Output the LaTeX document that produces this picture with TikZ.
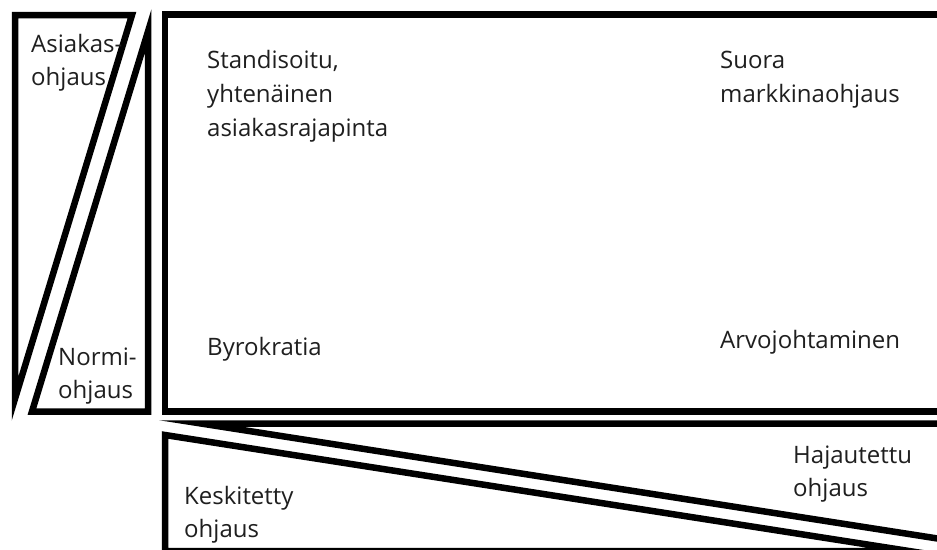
\documentclass[tikz,border=0pt]{standalone}
\usepackage{fontspec}
\setmainfont{Open Sans}
\begin{document}
\begin{tikzpicture}[x=1pt,y=-1pt,
  frame/.style={draw=black, line width=6.5pt, line join=miter, miter limit=25},
  lbl/.style={anchor=base west, inner sep=0pt, text=black!88, font=\fontsize{24}{29}\selectfont}]
\useasboundingbox (0,0) rectangle (937,549);
\fill[white] (0,0) rectangle (937,549);
\begin{scope}
\clip (0,0) rectangle (937,549);
% left pair of triangles
\draw[frame] (15,15) -- (132,15) -- (15,398.7) -- cycle;
\draw[frame] (148,31.5) -- (148,411.5) -- (32,411.5) -- cycle;
% main field
\draw[frame] (165,14.5) rectangle (960,411.5);
% bottom pair of triangles
\draw[frame] (201,423.5) -- (960,423.5) -- (960,542) -- cycle;
\draw[frame] (165,435) -- (165,551) -- (909,551) -- cycle;
\end{scope}
% labels
\node[lbl] (asiakas) at (31,52) {Asiakas-};
\node[lbl] (asiakasb) at (31,85) {ohjaus};
\node[lbl] (normi) at (58,365) {Normi-};
\node[lbl] (normib) at (58,398) {ohjaus};
\node[lbl] (std1) at (207,68) {Standisoitu,};
\node[lbl] (std2) at (207,102) {yhtenäinen};
\node[lbl] (std3) at (207,136) {asiakasrajapinta};
\node[lbl] (suora1) at (720,68) {Suora};
\node[lbl] (suora2) at (720,102) {markkinaohjaus};
\node[lbl] (byro) at (207,355) {Byrokratia};
\node[lbl] (arvo) at (720,348) {Arvojohtaminen};
\node[lbl] (haja1) at (793,463) {Hajautettu};
\node[lbl] (haja2) at (793,496) {ohjaus};
\node[lbl] (kesk1) at (184,504) {Keskitetty};
\node[lbl] (kesk2) at (184,537) {ohjaus};
\end{tikzpicture}
\end{document}
